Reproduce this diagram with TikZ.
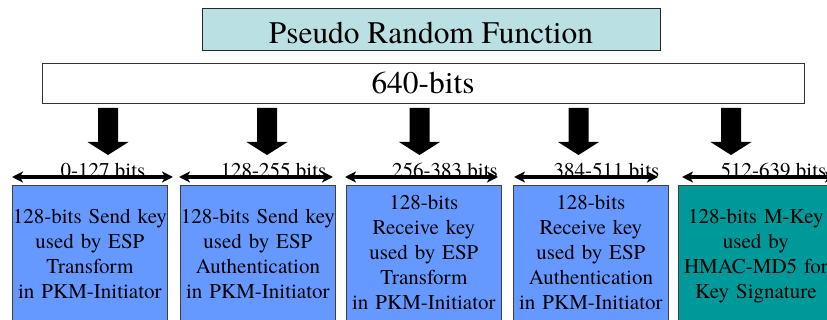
\documentclass[tikz,border=0pt]{standalone}
\usepackage{fontspec}
\setmainfont{texgyretermes}[Extension=.otf, UprightFont=*-regular, BoldFont=*-bold]
\usetikzlibrary{arrows.meta}
\definecolor{prfcyan}{RGB}{187,224,227}
\definecolor{keyblue}{RGB}{102,153,255}
\definecolor{keyteal}{RGB}{0,153,153}
\tikzset{
  bigtext/.style={font=\fontsize{31.4}{36}\selectfont},
  keybox/.style={draw=black!75, line width=0.8pt, anchor=north west,
    minimum width=155pt, minimum height=160pt, inner sep=0pt},
  keytext/.style={font=\fontsize{21}{25}\selectfont, align=center,
    text width=170pt, inner sep=0pt, anchor=base},
  rangelbl/.style={font=\fontsize{21}{25}\selectfont, inner sep=0pt, anchor=base},
  span/.style={line width=4pt, {Stealth[length=11pt,width=11pt,inset=3pt]}-{Stealth[length=11pt,width=11pt,inset=3pt]}},
  blockdown/.pic={\fill[black] (-10,0) -- (10,0) -- (10,34) -- (20.5,34) -- (0,47) -- (-20.5,34) -- (-10,34) -- cycle;}
}
\begin{document}
\begin{tikzpicture}[x=1pt,y=-1pt]
\useasboundingbox (0,0) rectangle (827,320);
\clip (0,0) rectangle (827,320);

% function and output block
\node[draw=black!85, line width=1pt, fill=prfcyan, bigtext, minimum width=458pt,
  minimum height=42pt, inner sep=0pt, text height=26.6pt, text depth=0pt]
  (prf) at (431,30) {Pseudo Random Function};
\node[draw=black!80, line width=0.8pt, fill=white, bigtext, minimum width=762pt,
  minimum height=40pt, inner sep=0pt] (out) at (423,83) {640-bits};

% block arrows from the 640-bit output
\foreach \ax/\nm in {108/a1, 267/a2, 419.5/a3, 578.5/a4, 731/a5}{
  \coordinate (\nm) at (\ax,108);
  \pic at (\nm) {blockdown};
}

% key boxes
\node[keybox, fill=keyblue] (k1) at (12,185) {};
\node[keybox, fill=keyblue] (k2) at (180,185) {};
\node[keybox, fill=keyblue] (k3) at (346,185) {};
\node[keybox, fill=keyblue] (k4) at (513,185) {};
\node[keybox, fill=keyteal] (k5) at (678,185) {};

\node[keytext] (t1) at ([yshift=-39pt]k1.north) {128-bits Send key\\used by ESP\\Transform\\in PKM-Initiator};
\node[keytext] (t2) at ([yshift=-39pt]k2.north) {128-bits Send key\\used by ESP\\Authentication\\in PKM-Initiator};
\node[keytext] (t3) at ([yshift=-25pt]k3.north) {128-bits\\Receive key\\used by ESP\\Transform\\in PKM-Initiator};
\node[keytext] (t4) at ([yshift=-25pt]k4.north) {128-bits\\Receive key\\used by ESP\\Authentication\\in PKM-Initiator};
\node[keytext] (t5) at ([yshift=-39pt]k5.north) {128-bits M-Key\\used by\\HMAC-MD5 for\\Key Signature};

% bit ranges
\node[rangelbl] (r1) at (103,178) {0-127 bits};
\node[rangelbl] (r2) at (273.5,178) {128-255 bits};
\node[rangelbl] (r3) at (445,178) {256-383 bits};
\node[rangelbl] (r4) at (606.5,178) {384-511 bits};
\node[rangelbl] (r5) at (773.5,178) {512-639 bits};

\coordinate (s1a) at (12,177);  \coordinate (s1b) at (173,177);
\coordinate (s2a) at (179,177); \coordinate (s2b) at (333,177);
\coordinate (s3a) at (345,177); \coordinate (s3b) at (498,177);
\coordinate (s4a) at (514,177); \coordinate (s4b) at (658,177);
\coordinate (s5a) at (682,177); \coordinate (s5b) at (836,177);
\foreach \i in {1,...,5}{ \draw[span] (s\i a) -- (s\i b); }
\end{tikzpicture}
\end{document}
